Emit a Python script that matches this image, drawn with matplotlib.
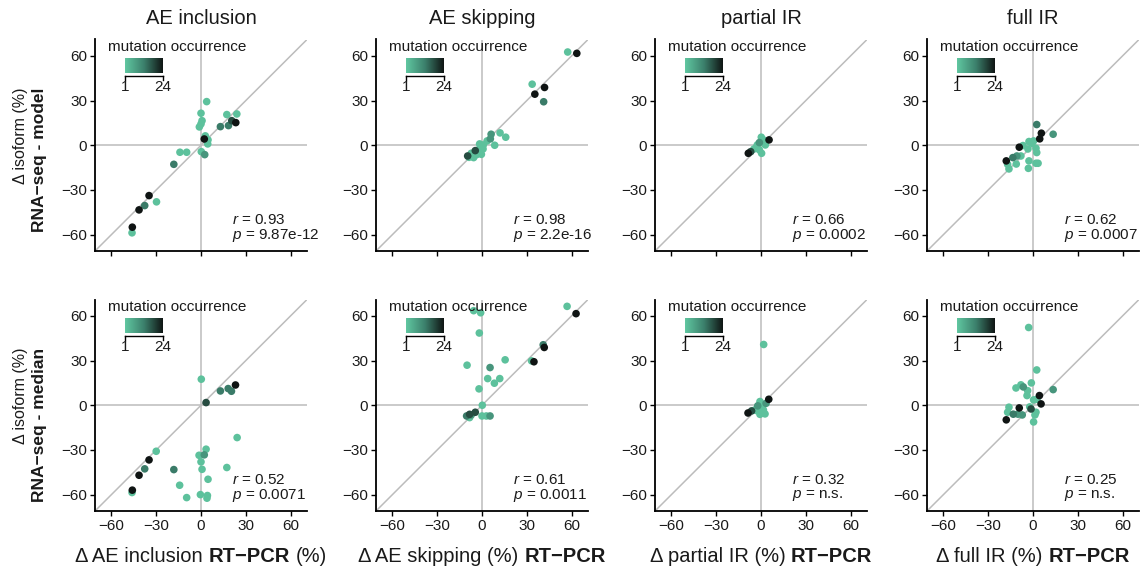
import numpy as np
import matplotlib
matplotlib.use("Agg")
import matplotlib.pyplot as plt
from matplotlib.colors import LinearSegmentedColormap

plt.rcParams['font.family'] = ['Liberation Sans', 'DejaVu Sans']
plt.rcParams['mathtext.fontset'] = 'custom'
plt.rcParams['mathtext.rm'] = 'Liberation Sans'
plt.rcParams['mathtext.it'] = 'Liberation Sans:italic'
plt.rcParams['axes.unicode_minus'] = True

# ---------------- data ----------------
titles = ["AE inclusion", "AE skipping", "partial IR", "full IR"]
row_names = ["RNA\u2212seq - model", "RNA\u2212seq - median"]
xlabel_parts = [
    [("\u0394 AE inclusion", "normal"), ("RT\u2212PCR", "bold"), ("(%)", "normal")],
    [("\u0394 AE skipping (%)", "normal"), ("RT\u2212PCR", "bold")],
    [("\u0394 partial IR (%)", "normal"), ("RT\u2212PCR", "bold")],
    [("\u0394 full IR (%)", "normal"), ("RT\u2212PCR", "bold")],
]
tick_values = [-60, -30, 0, 30, 60]
occ_range = [1, 24]

# AE inclusion, model
aei_model_x = [3.8, 0, 0.7, 0, -1.1, 17.3, 24, 20.6, 23.3, 18.4, 13, 2.9, 4.7, 2.2, 4.5,
               0.2, 2.5, -14.1, -9.6, -18.2, -34.8, -37.7, -41.5, -29.8, -46, -46.2]
aei_model_y = [29.3, 21.5, 16.5, 14.3, 12.3, 20.6, 21, 16.5, 15.2, 13.2, 12.5, 6.3, 3.6, 4.2, 0.9,
               -4.3, -6.3, -4.7, -4.7, -12.8, -33.8, -40.5, -43.4, -38, -55, -58.8]
aei_model_occ = [2, 2, 2, 2, 2, 2, 2, 18, 24, 13, 13, 2, 2, 24, 2,
                 2, 9, 2, 2, 13, 24, 13, 24, 2, 24, 2]

# AE skipping, model
aes_model_x = [57.4, 63.5, 33.6, 41.9, 35.4, 41.3, 6.1, 12.1, 15.9, 5.6, 8.5, 3.4, 0.9, -1.6,
               0.7, -4.5, -3.6, -0.4, -5.6, -9.6, -8.7, -7.2, -2.5]
aes_model_y = [62.6, 61.7, 41, 38.8, 34.3, 29.2, 7.4, 8.3, 5.4, 4.3, 0, 2.9, 0.2, 0.9,
               -2.5, -3.6, -6.3, -6.1, -8.3, -7.2, -8.1, -5.4, -3.1]
aes_model_occ = [2, 24, 2, 24, 24, 13, 9, 2, 2, 9, 2, 2, 2, 2,
                 2, 18, 2, 2, 2, 18, 2, 2, 2]

# partial IR, model
pir_model_x = [5.4, -8.5, -6.9, -4.7, -2.9, -1.1, 0.2, 1.6, 2.7, 0.4, -1.1, 2.9, -2.5]
pir_model_y = [3.6, -5.4, -4.3, -2.5, -1.3, 1.8, 5.4, 3.6, 1.3, -5.4, -3.1, 0.2, 0.2]
pir_model_occ = [24, 24, 18, 2, 2, 9, 2, 2, 2, 2, 2, 2, 2]

# full IR, model
fir_model_x = [2.5, 13.5, 5.6, 4.5, 0.4, -2.7, -6.7, -9.2, 2, 2.5, -3.4, -8.1, -13.5, -10.8,
               -17.9, -17, -16.1, -11.2, -2.7, -3.1, 2, 3.4, -0.7]
fir_model_y = [13.9, 7.4, 8.1, 4.3, 2.9, 2.5, -0.2, -1.3, -2, -4.9, -2.5, -7.2, -8.3, -7.2,
               -10.5, -12.8, -15.9, -12.6, -10.5, -15.5, -12.1, -12.1, 1.3]
fir_model_occ = [13, 9, 24, 24, 2, 2, 2, 24, 2, 2, 2, 2, 13, 9,
                 24, 2, 2, 2, 2, 2, 2, 2, 2]

# AE inclusion, median
aei_median_x = [0.2, 13, 18.2, 20.4, 23.1, 3.4, 24.2, 3.4, -1.3, 2.2, 0, 0.7, 17.3, 4.7,
                -14.3, -9.6, -0.4, 4.3, 4, -18.2, -30, -34.8, -37.7, -41.5, -46, -46.2]
aei_median_y = [17.5, 9.6, 11.2, 9.4, 13.6, 1.8, -21.7, -29.5, -33.6, -33.3, -38, -43, -41.8, -49.7,
                -53.7, -62, -60, -60.6, -62.4, -43.2, -30.9, -36.7, -42.7, -47, -57, -58.6]
aei_median_occ = [2, 13, 13, 13, 24, 18, 2, 2, 2, 9, 2, 2, 2, 2,
                  2, 2, 2, 2, 2, 13, 2, 24, 13, 24, 24, 2]

# AE skipping, median
aes_median_x = [57, 63, 41, 41.7, 34.8, 33.2, -5.6, -0.9, -1.8, -10, 5.4, 15.5, 3.8, 11.9,
                8.3, -2, 0.2, 0, 2.9, 5.4, -4.5, -8.3, -10.3, -8.3, -7.2]
aes_median_y = [66.4, 61.5, 40.6, 38.8, 29.2, 29.8, 63.5, 62.1, 48.5, 26.9, 25.3, 30.5, 17.9, 17.9,
                14.8, 11, 0, -7.2, -7.2, -7.2, -4.7, -6.1, -7.2, -8.3, -6.5]
aes_median_occ = [2, 24, 13, 24, 24, 2, 2, 2, 2, 2, 9, 2, 2, 2,
                  2, 2, 2, 2, 2, 9, 18, 18, 13, 2, 9]

# partial IR, median
pir_median_x = [1.8, 5.2, 3.4, -8.7, -6.3, -4, -2.2, -0.7, 0.4, 1.6, 2.7, -0.7, -2.9]
pir_median_y = [40.8, 4, 1.3, -5.2, -3.8, -3.1, -0.4, 2.5, -1.3, -3.1, -5.8, -6.1, -3.6]
pir_median_occ = [2, 24, 9, 24, 18, 2, 9, 2, 2, 2, 2, 2, 2]

# full IR, median
fir_median_x = [-2.9, 2.5, -1.1, -11.4, -8.1, -6.5, -3.6, -4, 13.5, 0.4, 2.7, 4.3, 5.4,
                -2.2, -1.3, -9.2, -16.1, -17, -13.2, -10.1, -7.2, 2, 1.3, 0.4, -17.9]
fir_median_y = [52.2, 23.7, 15, 11.6, 13.7, 12.3, 9.8, 6.5, 10.5, 3.6, 4, 6.5, 0.9,
                -1.1, -2.5, -1.8, -1.3, -4.7, -6, -6, -6.5, -4.7, -6.5, -11.2, -9.8]
fir_median_occ = [2, 2, 2, 2, 2, 9, 2, 2, 9, 2, 2, 24, 24,
                  2, 18, 24, 2, 2, 13, 9, 9, 2, 2, 2, 24]

r_values = ["0.93", "0.98", "0.66", "0.62", "0.52", "0.61", "0.32", "0.25"]
p_values = ["9.87e-12", "2.2e-16", "0.0002", "0.0007", "0.0071", "0.0011", "n.s.", "n.s."]

panel_data = [
    (aei_model_x, aei_model_y, aei_model_occ),
    (aes_model_x, aes_model_y, aes_model_occ),
    (pir_model_x, pir_model_y, pir_model_occ),
    (fir_model_x, fir_model_y, fir_model_occ),
    (aei_median_x, aei_median_y, aei_median_occ),
    (aes_median_x, aes_median_y, aes_median_occ),
    (pir_median_x, pir_median_y, pir_median_occ),
    (fir_median_x, fir_median_y, fir_median_occ),
]

# ---------------- layout / style ----------------
W, H = 1140, 571
fig = plt.figure(figsize=(W / 100, H / 100), dpi=100)

col_left = [95, 376, 655, 927]
row_top = [39.5, 299.5]
AW, AH = 212, 211.5
LIM = 71
GREY = "#bcbcbc"
TXT = "#1a1a1a"

cmap = LinearSegmentedColormap.from_list("occ", ["#60c7a1", "#3c806c", "#0f1413"])


def px_box(left, top, w, h):
    return [left / W, 1 - (top + h) / H, w / W, h / H]


axes = []
for r in range(2):
    for c in range(4):
        i = r * 4 + c
        ax = fig.add_axes(px_box(col_left[c], row_top[r], AW, AH))
        axes.append(ax)
        x, y, occ = (np.asarray(a, dtype=float) for a in panel_data[i])
        order = np.argsort(occ, kind="stable")

        ax.plot([-LIM, LIM], [-LIM, LIM], color=GREY, lw=1.1, zorder=1)
        ax.axhline(0, color=GREY, lw=1.1, zorder=1)
        ax.axvline(0, color=GREY, lw=1.1, zorder=1)
        ax.scatter(x[order], y[order], c=occ[order], cmap=cmap,
                   vmin=occ_range[0], vmax=occ_range[1], s=30, linewidths=0, zorder=3)

        ax.set_xlim(-LIM, LIM)
        ax.set_ylim(-LIM, LIM)
        ax.set_xticks(tick_values)
        ax.set_yticks(tick_values)
        for side in ("top", "right"):
            ax.spines[side].set_visible(False)
        for side in ("left", "bottom"):
            ax.spines[side].set_linewidth(1.3)
            ax.spines[side].set_color("black")
        ax.tick_params(length=3.5, width=1.0, labelsize=11, labelcolor=TXT, pad=2)
        if r == 0:
            ax.tick_params(labelbottom=False)

        # correlation annotation
        ax.text(21, -50, f"$r$ = {r_values[i]}", fontsize=11, color=TXT, va="center", ha="left")
        ax.text(21, -60.5, f"$p$ = {p_values[i]}", fontsize=11, color=TXT, va="center", ha="left")

        # colour key
        ax.text(0.389, 0.965, "mutation occurrence", transform=ax.transAxes,
                fontsize=11, color=TXT, ha="center", va="center")
        cax = ax.inset_axes([0.142, 0.842, 0.177, 0.07])
        cax.imshow(np.linspace(0, 1, 256)[None, :], aspect="auto", cmap=cmap,
                   extent=[occ_range[0], occ_range[1], 0, 1])
        cax.set_xlim(occ_range[0], occ_range[1])
        cax.set_ylim(0, 1)
        cax.axis("off")
        cax.plot([occ_range[0], occ_range[1]], [-0.22, -0.22], color="black", lw=1.0, clip_on=False)
        for v in occ_range:
            cax.plot([v, v], [-0.22, -0.48], color="black", lw=1.0, clip_on=False)
            cax.text(v, -0.92, str(v), fontsize=11, color=TXT, ha="center", va="center")

# titles
for c in range(4):
    xc = col_left[c] + AW / 2
    fig.text(xc / W, 1 - 18 / H, titles[c], fontsize=14.5, color=TXT, ha="center", va="center")

# row labels
for r in range(2):
    top = row_top[r] + 48
    fig.text(21 / W, 1 - top / H, "\u0394 isoform (%)", fontsize=11.5, color=TXT,
             rotation=90, ha="center", va="top")
    fig.text(40 / W, 1 - top / H, row_names[r], fontsize=12.5, fontweight="bold", color=TXT,
             rotation=90, ha="center", va="top")

# x labels made of regular and bold pieces
renderer = fig.canvas.get_renderer()


def text_width(s, weight, size):
    t = fig.text(0, 0, s, fontsize=size, fontweight=weight)
    w = t.get_window_extent(renderer).width
    t.remove()
    return w


XL_SIZE = 14.5
space_w = text_width("x x", "normal", XL_SIZE) - text_width("xx", "normal", XL_SIZE)
for c in range(4):
    parts = xlabel_parts[c]
    widths = [text_width(s, w, XL_SIZE) for s, w in parts]
    total = sum(widths) + space_w * (len(parts) - 1)
    x0 = col_left[c] + AW / 2 - total / 2
    for (s, w), wd in zip(parts, widths):
        fig.text(x0 / W, 1 - 562 / H, s, fontsize=XL_SIZE, fontweight=w, color=TXT,
                 ha="left", va="baseline")
        x0 += wd + space_w

fig.savefig("out.png", dpi=100)
